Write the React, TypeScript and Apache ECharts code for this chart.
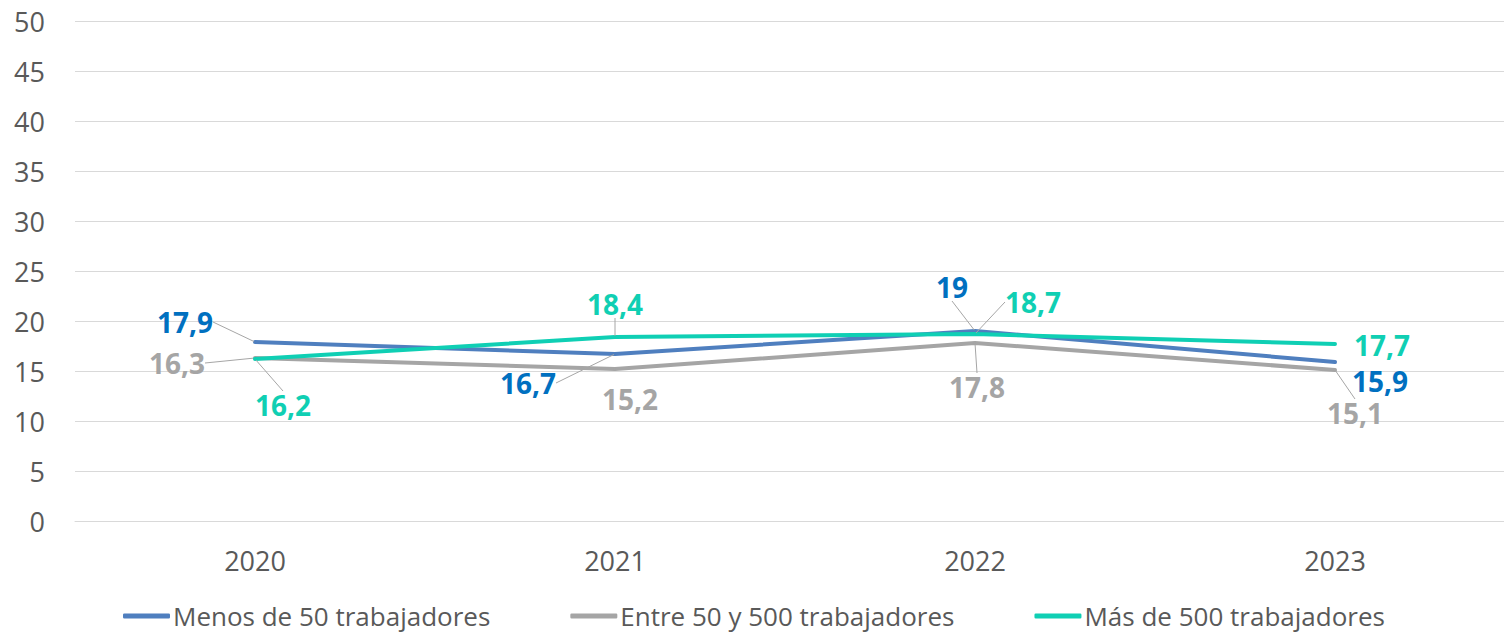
import React, { useEffect, useRef } from "react";
import * as echarts from "echarts";

const categories = ["2020", "2021", "2022", "2023"];
const menos50 = [17.9, 16.7, 19, 15.9];
const entre50y500 = [16.3, 15.2, 17.8, 15.1];
const mas500 = [16.2, 18.4, 18.7, 17.7];
const seriesNames = ["Menos de 50 trabajadores", "Entre 50 y 500 trabajadores", "Más de 500 trabajadores"];

// label placement (pixel offsets from the point) and leader-line visibility
const labelOffsets = [
  [[-70, -20], [-87, 29], [-23, -44], [45, 19]],
  [[-78, 5], [15, 30], [2, 44], [20, 43]],
  [[28, 46], [0, -33], [58, -32], [47, 1]],
];
const leaderShow = [
  [true, true, true, false],
  [true, false, true, true],
  [true, true, true, false],
];

const lineColors = ["#4F7FBF", "#A5A5A5", "#0FCFB4"];
const labelColors = ["#0070C0", "#A5A5A5", "#10CFB3"];
const FONT = "'Open Sans', 'Noto Sans', sans-serif";

export default function App() {
  const ref = useRef<HTMLDivElement>(null);
  useEffect(() => {
    if (!ref.current) return;
    const chart = echarts.init(ref.current, null, { renderer: "svg" });
    const values = [menos50, entre50y500, mas500];
    const series = values.map((vals, si) => ({
      name: seriesNames[si],
      type: "line",
      data: vals.map((v, di) => ({
        value: v,
        labelLine: { show: leaderShow[si][di] },
      })),
      symbol: "circle",
      symbolSize: 2,
      showSymbol: true,
      itemStyle: { color: lineColors[si] },
      lineStyle: { color: lineColors[si], width: 4, cap: "round", join: "round" },
      z: si === 1 ? 2 : si === 0 ? 3 : 4,
      label: {
        show: true,
        position: "inside",
        formatter: (p: any) => String(p.value).replace(".", ","),
        color: labelColors[si],
        fontFamily: FONT,
        fontWeight: "bold",
        fontSize: 28,
      },
      labelLine: {
        show: true,
        lineStyle: { color: "#A6A6A6", width: 1 },
      },
      labelLayout: (params: any) => {
        const o = labelOffsets[si][params.dataIndex];
        return { dx: o[0], dy: o[1] };
      },
      emphasis: { disabled: true },
    }));
    chart.setOption({
      animation: false,
      textStyle: { fontFamily: FONT },
      grid: { left: 75, top: 21, width: 1440, height: 500 },
      xAxis: {
        type: "category",
        data: categories,
        boundaryGap: true,
        axisLine: { show: true, lineStyle: { color: "#D9D9D9", width: 1 } },
        axisTick: { show: false },
        axisLabel: { color: "#595959", fontSize: 27, fontFamily: FONT, margin: 26 },
      },
      yAxis: {
        type: "value",
        min: 0,
        max: 50,
        interval: 5,
        axisLine: { show: false },
        axisTick: { show: false },
        splitLine: { lineStyle: { color: "#D9D9D9", width: 1 } },
        axisLabel: { color: "#595959", fontSize: 27, fontFamily: FONT, margin: 30 },
      },
      legend: {
        bottom: 0,
        left: 118,
        itemWidth: 47,
        itemHeight: 5,
        itemGap: 80,
        icon: "roundRect",
        textStyle: { color: "#595959", fontSize: 26, fontFamily: FONT, padding: [0, 0, 0, -2] },
        data: seriesNames,
      },
      series,
    });
    return () => chart.dispose();
  }, []);
  return (
    <div style={{ position: "absolute", left: 0, top: 0, width: 1504, height: 634, overflow: "hidden" }}>
      <div ref={ref} style={{ width: 1520, height: 634 }} />
    </div>
  );
}
